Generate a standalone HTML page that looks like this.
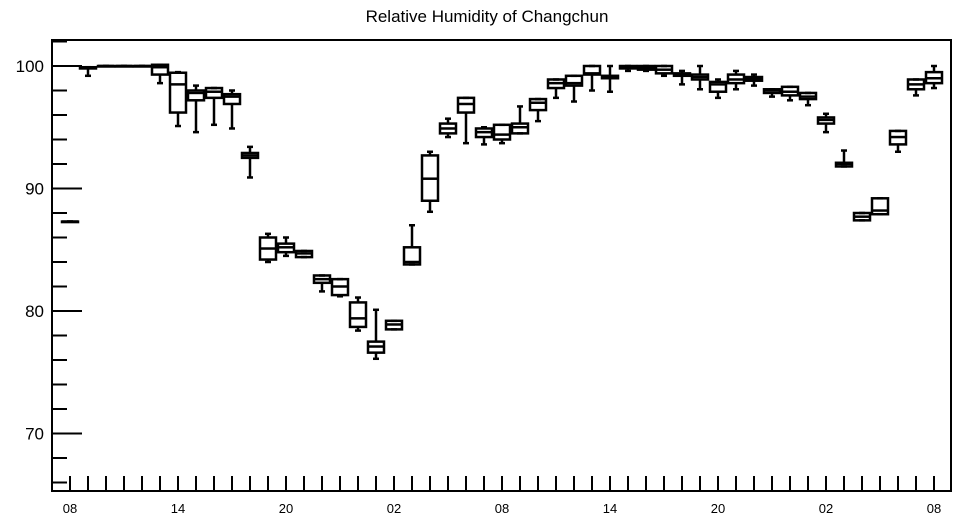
<!DOCTYPE html>
<html><head><meta charset="utf-8"><style>
html,body{margin:0;padding:0;background:#fff;}
svg{display:block;font-family:"Liberation Sans",sans-serif;}
</style></head><body>
<svg id="chart" width="957" height="520" viewBox="0 0 957 520">
<text x="487" y="22" text-anchor="middle" font-size="17">Relative Humidity of Changchun</text>
<rect x="52" y="40" width="899" height="451" fill="none" stroke="#000" stroke-width="2"/>
<g id="yaxis"></g>
<g id="xaxis"></g>
<g id="boxes"></g>
</svg>
<script>
const hours = ["08","09","10","11","12","13","14","15","16","17","18","19","20","21","22","23","00","01","02","03","04","05","06","07","08","09","10","11","12","13","14","15","16","17","18","19","20","21","22","23","00","01","02","03","04","05","06","07","08"];
const whiskerHigh = [87.3,99.9,100,100,100,100.1,99.5,98.4,98.2,98.0,93.4,86.3,86.0,84.9,82.9,82.6,81.1,80.1,79.2,87.0,93.0,95.7,97.4,95.0,95.2,96.7,97.3,98.9,99.2,100,100,100,100,100,99.6,100,98.9,99.6,99.3,98.1,98.3,97.8,96.1,93.1,88.0,89.2,94.7,98.9,100];
const q3 = [87.3,99.9,100,100,100,100.1,99.45,98.0,98.2,97.7,92.9,86.0,85.5,84.9,82.9,82.6,80.7,77.5,79.2,85.2,92.7,95.3,97.4,94.9,95.2,95.3,97.3,98.9,99.2,100,99.2,100,100,100,99.4,99.3,98.7,99.3,99.1,98.1,98.3,97.8,95.8,92.1,88.0,89.2,94.7,98.9,99.5];
const medians = [87.3,99.85,100,100,100,99.9,98.5,97.8,97.9,97.5,92.7,85.1,85.2,84.7,82.6,82.0,79.4,77.1,78.9,84.0,90.8,94.9,96.9,94.6,94.4,95.0,97.0,98.6,98.6,99.4,99.1,99.9,99.85,99.7,99.3,99.1,98.5,98.9,98.95,98.0,97.9,97.5,95.6,92.0,87.7,88.2,94.2,98.5,99.0];
const q1 = [87.3,99.8,100,100,100,99.3,96.2,97.2,97.4,96.9,92.5,84.2,84.8,84.4,82.3,81.3,78.7,76.6,78.5,83.8,89.0,94.5,96.2,94.2,94.0,94.5,96.4,98.2,98.4,99.3,99.0,99.8,99.7,99.4,99.2,98.9,97.9,98.6,98.8,97.8,97.6,97.3,95.3,91.8,87.4,87.9,93.6,98.1,98.6];
const whiskerLow = [87.3,99.2,100,100,100,98.6,95.1,94.6,95.2,94.9,90.9,84.0,84.5,84.4,81.6,81.2,78.4,76.1,78.5,83.8,88.1,94.2,93.7,93.6,93.7,94.5,95.5,97.4,97.1,98.0,97.9,99.6,99.6,99.2,98.5,98.1,97.4,98.1,98.4,97.5,97.2,96.8,94.6,91.8,87.4,87.9,93.0,97.6,98.2];
const yTicks = [70,80,90,100];
const xLabelIdx = [0,6,12,18,24,30,36,42,48];

const NS="http://www.w3.org/2000/svg";
const L=52,R=951,T=40,B=491;
function y(v){return 66+(100-v)*12.25;}
function x(i){return 70+18*i;}
function mk(tag,attrs,parent){const e=document.createElementNS(NS,tag);for(const k in attrs)e.setAttribute(k,attrs[k]);parent.appendChild(e);return e;}
const ya=document.getElementById('yaxis'),xa=document.getElementById('xaxis'),bx=document.getElementById('boxes');
for(let v=66;v<=102;v+=2){
  const major=v%10===0;
  const t=mk('line',{x1:L,x2:L+(major?30:15),y1:y(v),y2:y(v),stroke:'#000','stroke-width':2},ya);
  
  
}
yTicks.forEach(v=>{
  const t=mk('text',{x:44,y:y(v)+6,'text-anchor':'end','font-size':17},ya);
  t.textContent=String(v);
  
  
});
hours.forEach((h,i)=>{
  const t=mk('line',{x1:x(i),x2:x(i),y1:B-15,y2:B,stroke:'#000','stroke-width':2},xa);
  
  
});
xLabelIdx.forEach(i=>{
  const t=mk('text',{x:x(i),y:513,'text-anchor':'middle','font-size':13},xa);
  t.textContent=hours[i];
  
  
});
hours.forEach((h,i)=>{
  const g=mk('g',{},bx);
  
  
  const cx=x(i),w=16,st={stroke:'#000','stroke-width':2.5,fill:'none'};
  mk('line',Object.assign({x1:cx,x2:cx,y1:y(whiskerHigh[i]),y2:y(q3[i])},st),g);
  mk('line',Object.assign({x1:cx,x2:cx,y1:y(q1[i]),y2:y(whiskerLow[i])},st),g);
  mk('line',Object.assign({x1:cx-3,x2:cx+3,y1:y(whiskerHigh[i]),y2:y(whiskerHigh[i])},st),g);
  mk('line',Object.assign({x1:cx-3,x2:cx+3,y1:y(whiskerLow[i]),y2:y(whiskerLow[i])},st),g);
  mk('rect',Object.assign({x:cx-w/2,y:y(q3[i]),width:w,height:Math.max(0.5,y(q1[i])-y(q3[i]))},st),g);
  mk('line',Object.assign({x1:cx-w/2,x2:cx+w/2,y1:y(medians[i]),y2:y(medians[i])},st),g);
});
</script>
</body></html>
